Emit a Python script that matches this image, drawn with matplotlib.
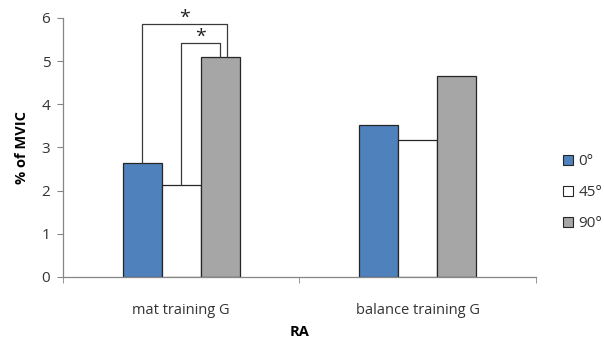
import matplotlib
matplotlib.use("Agg")
import matplotlib.pyplot as plt
import numpy as np
from matplotlib.patches import Patch

plt.rcParams["font.family"] = ["Open Sans", "DejaVu Sans"]

groups = ["mat training G", "balance training G"]
angles = ["0°", "45°", "90°"]
values = {
    "0°": [2.65, 3.53],
    "45°": [2.14, 3.18],
    "90°": [5.10, 4.65],
}
colors = {"0°": "#4F81BD", "45°": "#FFFFFF", "90°": "#A6A6A6"}

# significance brackets within the first group: (left bar, right bar, height)
brackets = [(0, 2, 5.85), (1, 2, 5.42)]

fig = plt.figure(figsize=(6.04, 3.44), dpi=100)
ax = fig.add_axes([0.104, 0.195, 0.783, 0.753])

x = np.arange(len(groups))
width = 0.165
offsets = [-width, 0.0, width]

for off, ang in zip(offsets, angles):
    ax.bar(x + off, values[ang], width, color=colors[ang],
           edgecolor="#262626", linewidth=0.9, zorder=2)

# brackets with stars
for i, j, h in brackets:
    xi = x[0] + offsets[i]
    xj = x[0] + offsets[j] + (0.028 if i == 0 else 0.0)
    yi = values[angles[i]][0]
    yj = values[angles[j]][0]
    ax.plot([xi, xi, xj, xj], [yi, h, h, yj], color="#3a3a3a", lw=0.9,
            zorder=3, clip_on=False)
    ax.text((xi + xj) / 2, h + 0.03, "*", ha="center", va="baseline",
            fontsize=14, color="#222222")

ax.set_xlim(-0.5, 1.5)
ax.set_ylim(0, 6)
ax.set_yticks(range(7))
ax.set_xticks(x)
ax.set_xticklabels(groups, fontsize=10.5, color="#333333")
ax.tick_params(axis="x", length=0, pad=19)
ax.set_xticks([-0.5, 0.5, 1.5], minor=True)
ax.tick_params(axis="x", which="minor", length=4, color="#868686", direction="out")
ax.tick_params(axis="y", length=4, color="#868686", labelsize=11,
               labelcolor="#333333", direction="out", pad=5)

for side in ["top", "right"]:
    ax.spines[side].set_visible(False)
for side in ["left", "bottom"]:
    ax.spines[side].set_color("#868686")
    ax.spines[side].set_linewidth(0.9)

ax.set_ylabel("% of MVIC", fontsize=10.5, fontweight="bold", labelpad=9)
ax.set_xlabel("RA", fontsize=10.5, fontweight="bold", labelpad=5)

handles = [Patch(facecolor=colors[a], edgecolor="#262626", linewidth=0.8) for a in angles]
fig.legend(handles, angles, loc="center left", bbox_to_anchor=(0.91, 0.44),
           frameon=False, fontsize=11, handlelength=0.65, handleheight=0.65,
           handletextpad=0.35, labelspacing=1.05, labelcolor="#333333")

fig.savefig("out.png", dpi=100)
